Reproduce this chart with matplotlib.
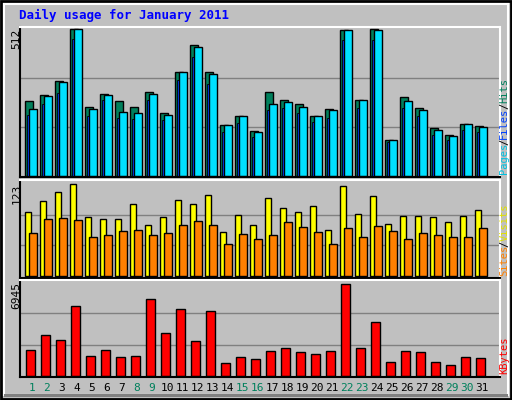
import numpy as np
import matplotlib
matplotlib.use("Agg")
import matplotlib.pyplot as plt
from matplotlib.patches import Rectangle

days = np.arange(1, 32)
hits = [261, 282, 331, 512, 240, 286, 261, 240, 293, 219, 362, 456, 362, 178, 209, 157,
        293, 265, 251, 209, 233, 509, 265, 512, 125, 275, 237, 167, 143, 181, 174]
files = [212, 251, 289, 477, 209, 265, 202, 199, 265, 195, 334, 414, 320, 153, 185, 136,
         230, 237, 219, 188, 202, 474, 237, 474, 118, 237, 209, 143, 125, 160, 153]
pages = [233, 279, 327, 512, 233, 282, 223, 219, 286, 212, 362, 449, 355, 178, 209, 153,
         251, 258, 240, 209, 230, 509, 265, 509, 125, 261, 230, 160, 139, 181, 171]
visits = [86, 100, 112, 123, 79, 76, 76, 96, 68, 79, 102, 96, 108, 59, 82, 68,
          104, 91, 86, 94, 62, 120, 83, 107, 70, 80, 80, 79, 72, 80, 88]
sites = [57, 76, 78, 75, 52, 55, 60, 62, 55, 57, 68, 74, 68, 43, 56, 49,
         55, 72, 66, 59, 43, 64, 52, 67, 60, 49, 57, 55, 52, 52, 64]
kbytes = [1921, 3030, 2660, 5173, 1478, 1921, 1404, 1478, 5690, 3178, 4951, 2587, 4804, 961, 1404, 1256,
          1848, 2069, 1774, 1626, 1848, 6799, 2069, 3991, 1035, 1848, 1774, 1035, 813, 1404, 1330]
weekend = [1, 2, 8, 9, 15, 16, 22, 23, 29, 30]

BG = "#c0c0c0"
GRID = "#808080"
MONO = "DejaVu Sans Mono"

fig = plt.figure(figsize=(5.12, 4.0), dpi=100, facecolor=BG)
# 3D-ish frame
fig.patches.append(Rectangle((0.002, 0.002), 0.996, 0.996, transform=fig.transFigure,
                             fill=False, edgecolor="black", lw=2))
fig.patches.append(Rectangle((0.008, 0.012), 0.984, 0.978, transform=fig.transFigure,
                             fill=False, edgecolor="white", lw=1.5))
fig.patches.append(Rectangle((0.008, 0.008), 0.984, 0.006, transform=fig.transFigure,
                             facecolor="#808080", edgecolor="none"))

def panel(rect, ymax, lo, hi):
    ax = fig.add_axes(rect)
    ax.set_facecolor(BG)
    ax.set_xlim(0.5, 32.5)
    ax.set_ylim(lo, hi)
    for g in (ymax / 3, 2 * ymax / 3):
        ax.axhline(g, color=GRID, lw=1, zorder=0)
    ax.set_xticks([])
    ax.set_yticks([])
    for s in ax.spines.values():
        s.set_color("black")
        s.set_linewidth(1.5)
    ax.spines["top"].set_color("white")
    ax.spines["right"].set_color("white")
    return ax

ax1 = panel([0.039, 0.5575, 0.9375, 0.375], 512, -4, 519)
ax1.bar(days - 0.17, hits, width=0.54, align="edge", color="#00805c", edgecolor="black", lw=1)
ax1.bar(days - 0.05, files, width=0.2, align="edge", color="#0040ff", edgecolor="black", lw=0.6)
ax1.bar(days + 0.1, pages, width=0.53, align="edge", color="#00e0ff", edgecolor="black", lw=1)

ax2 = panel([0.039, 0.305, 0.9375, 0.245], 123, -2.7, 128.3)
ax2.bar(days - 0.17, visits, width=0.42, align="edge", color="#ffff00", edgecolor="black", lw=1)
ax2.bar(days + 0.1, sites, width=0.53, align="edge", color="#ff8000", edgecolor="black", lw=1)

ax3 = panel([0.039, 0.0575, 0.9375, 0.2425], 6945, -74, 7093)
ax3.bar(days - 0.1, kbytes, width=0.62, align="edge", color="#ff0000", edgecolor="black", lw=1)

for d in days:
    ax3.text(d + 0.3, -500, str(d), ha="center", va="top", fontsize=8, family=MONO,
             color="#00805c" if d in weekend else "black")

fig.text(0.038, 0.962, "Daily usage for January 2011", color="#0000ff", fontsize=9,
         family=MONO, weight="bold", va="center")

for y, lab in [(0.928, "512"), (0.54, "123"), (0.295, "6945")]:
    fig.text(0.032, y, lab, rotation=90, ha="center", va="top", fontsize=8, family=MONO)

def side(parts, y0):
    y = y0
    for txt, col in parts:
        fig.text(0.985, y, txt, rotation=90, ha="center", va="bottom", fontsize=7.5,
                 family=MONO, color=col)
        y += len(txt) * 0.0147

side([("Pages", "#00c0e0"), ("/", "black"), ("Files", "#0040ff"), ("/", "black"), ("Hits", "#00805c")], 0.565)
side([("Sites", "#ff8000"), ("/", "black"), ("Visits", "#e0e000")], 0.31)
side([("KBytes", "#ff0000")], 0.065)

fig.savefig("out.png", dpi=100, facecolor=BG)
